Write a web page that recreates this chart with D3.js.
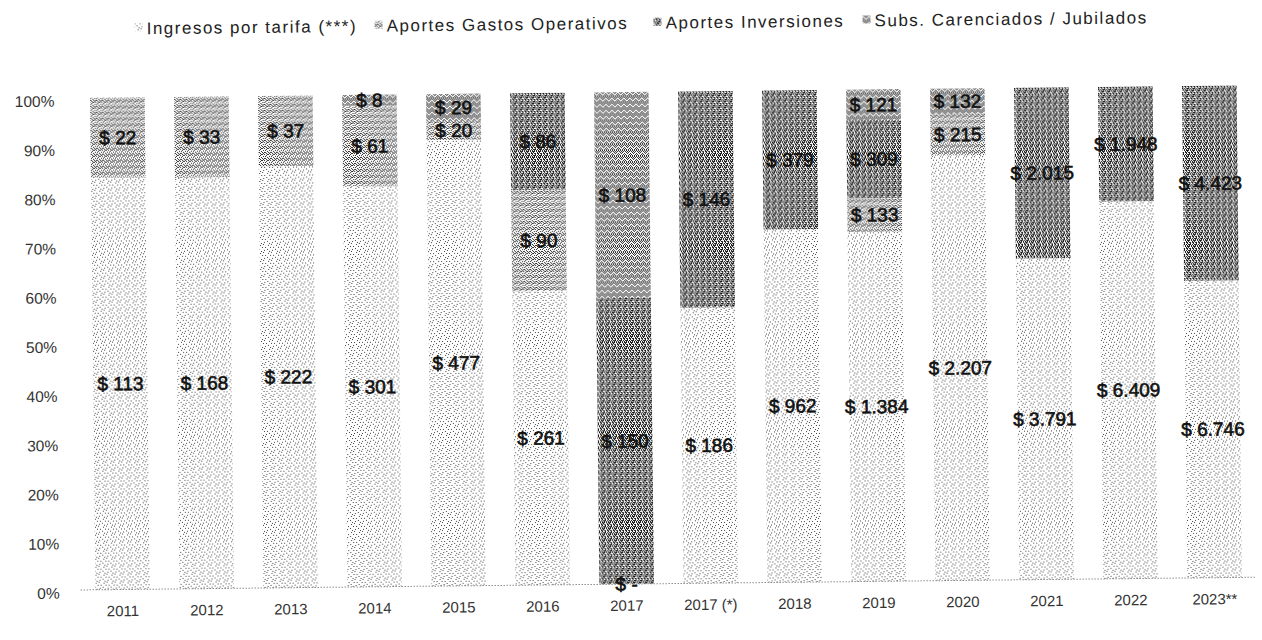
<!DOCTYPE html>
<html>
<head>
<meta charset="utf-8">
<script src="https://cdn.jsdelivr.net/npm/d3@7"></script>
<style>
  html, body { margin: 0; padding: 0; background: #fff; }
  svg { display: block; font-family: "Liberation Sans", Arial, sans-serif; }
</style>
</head>
<body>
<svg id="chart" width="1262" height="640"></svg>
<script>
// ---- data (values in $) ----
const years = ["2011","2012","2013","2014","2015","2016","2017","2017 (*)","2018","2019","2020","2021","2022","2023**"];
const tarifa      = [113, 168, 222, 301, 477, 261,   0, 186, 962, 1384, 2207, 3791, 6409, 6746];
const gastosOp    = [ 22,  33,  37,  61,  20,  90,   0,   0,   0,  133,  215,    0,    0,    0];
const inversiones = [  0,   0,   0,   0,   0,  86, 150, 146, 379,  309,    0, 2015, 1948, 4423];
const subs        = [  0,   0,   0,   8,  29,   0, 108,   0,   0,  121,  132,    0,    0,    0];
const seriesNames = ["Ingresos por tarifa (***)", "Aportes Gastos Operativos", "Aportes Inversiones", "Subs. Carenciados / Jubilados"];
const yTicks = [0, 0.1, 0.2, 0.3, 0.4, 0.5, 0.6, 0.7, 0.8, 0.9, 1.0];

const keys = ["tarifa", "gastosOp", "inversiones", "subs"];
const seriesArrays = { tarifa, gastosOp, inversiones, subs };
const table = years.map((y, i) => {
  const row = { year: y };
  keys.forEach(k => row[k] = seriesArrays[k][i]);
  return row;
});

const svg = d3.select("#chart");
const defs = svg.append("defs");

// stipple patterns (scanned-look grays)
function makePattern(id, size, dots, bg, ink) {
  const p = defs.append("pattern").attr("id", id).attr("patternUnits", "userSpaceOnUse")
    .attr("width", size).attr("height", size);
  p.append("rect").attr("width", size).attr("height", size).attr("fill", bg);
  dots.forEach(d => p.append("rect").attr("x", d[0]).attr("y", d[1])
    .attr("width", d[2] || 1).attr("height", d[3] || 1).attr("fill", ink));
}
makePattern("p-tarifa", 8, [[0,0],[5,1],[2,3],[7,3],[1,6],[4,5],[6,7]], "#fff", "#444");
makePattern("p-gastos", 6, [[0,0],[2,0],[4,1],[1,2],[3,2],[5,3],[0,4],[2,4],[4,5],[1,5],[5,0],[3,4]], "#fff", "#2a2a2a");
makePattern("p-inv", 6, [[0,0,3,1],[4,0],[1,1],[5,1,1,2],[0,2,1,2],[2,2,2,1],[3,3],[1,4,3,1],[5,4],[0,5],[2,5],[4,5,1,1]], "#fff", "#1a1a1a");
makePattern("p-subs", 6, [[0,0],[2,0],[4,0],[1,1],[3,1],[5,1],[0,2],[4,2],[2,3],[5,3],[1,4],[3,4],[0,5],[4,5],[2,5]], "#fff", "#222");
const fills = { tarifa: "url(#p-tarifa)", gastosOp: "url(#p-gastos)", inversiones: "url(#p-inv)", subs: "url(#p-subs)" };

// whole scan is slightly tilted
const g = svg.append("g").attr("transform", "rotate(-0.62, 631, 340)");

const x = d3.scaleBand().domain(years).range([78, 1254]).paddingInner(0.35).paddingOuter(0.175);
const y = d3.scaleLinear().domain([0, 1]).range([584, 92]);

const stack = d3.stack().keys(keys).offset(d3.stackOffsetExpand);
const stacked = stack(table);

const loc = d3.formatLocale({ decimal: ",", thousands: ".", grouping: [3], currency: ["$", ""] });
const fmt = loc.format(",d");
const money = v => v === 0 ? "$ -" : "$ " + fmt(v);

// bars
g.append("g").selectAll("g").data(stacked).join("g")
  .attr("fill", d => fills[d.key])
  .selectAll("rect").data(d => d).join("rect")
  .attr("x", d => x(d.data.year))
  .attr("width", x.bandwidth())
  .attr("y", d => y(d[1]))
  .attr("height", d => Math.max(0, y(d[0]) - y(d[1])));

// baseline (dotted)
g.append("line").attr("x1", 78).attr("x2", 1254).attr("y1", y(0)).attr("y2", y(0))
  .attr("stroke", "#555").attr("stroke-width", 1).attr("stroke-dasharray", "1,2");

// y axis
const yAxis = d3.axisLeft(y).tickValues(yTicks).tickFormat(d3.format(".0%")).tickSize(0).tickPadding(0);
const ya = g.append("g").attr("transform", "translate(57,3)").call(yAxis);
ya.select(".domain").remove();
ya.selectAll("text").attr("font-size", 15.5).attr("fill", "#333")
  .attr("font-family", "Liberation Sans, Arial, sans-serif");

// x axis
const xAxis = d3.axisBottom(x).tickSize(0).tickPadding(0);
const xa = g.append("g").attr("transform", `translate(0,${y(0) + 16})`).call(xAxis);
xa.select(".domain").remove();
xa.selectAll("text").attr("font-size", 15).attr("fill", "#333")
  .attr("font-family", "Liberation Sans, Arial, sans-serif");

// data labels
const labels = [];
stacked.forEach(s => s.forEach(d => {
  const v = d.data[s.key];
  if (v > 0 || (s.key === "tarifa" && v === 0)) {
    labels.push({ year: d.data.year, v, mid: (d[0] + d[1]) / 2 });
  }
}));
g.append("g").selectAll("text").data(labels).join("text")
  .attr("x", d => x(d.year) + x.bandwidth() / 2)
  .attr("y", d => y(d.mid))
  .attr("dy", "0.35em")
  .attr("text-anchor", "middle")
  .attr("font-size", 19)
  .attr("fill", "#111")
  .attr("stroke", "#111").attr("stroke-width", 0.6)
  .text(d => money(d.v));

// legend
const leg = g.append("g").attr("transform", "translate(0,23)");
const legFill = [fills.tarifa, fills.gastosOp, fills.inversiones, fills.subs];
const legTextX = [150, 390, 669, 878];
seriesNames.forEach((name, i) => {
  leg.append("rect").attr("x", legTextX[i] - 12).attr("y", -5).attr("width", 8).attr("height", 8)
    .attr("fill", legFill[i]);
  leg.append("text").attr("x", legTextX[i]).attr("y", 0).attr("dy", "0.35em")
    .attr("font-size", 17).attr("letter-spacing", "1.5px").attr("fill", "#222").text(name);
});
</script>
</body>
</html>
